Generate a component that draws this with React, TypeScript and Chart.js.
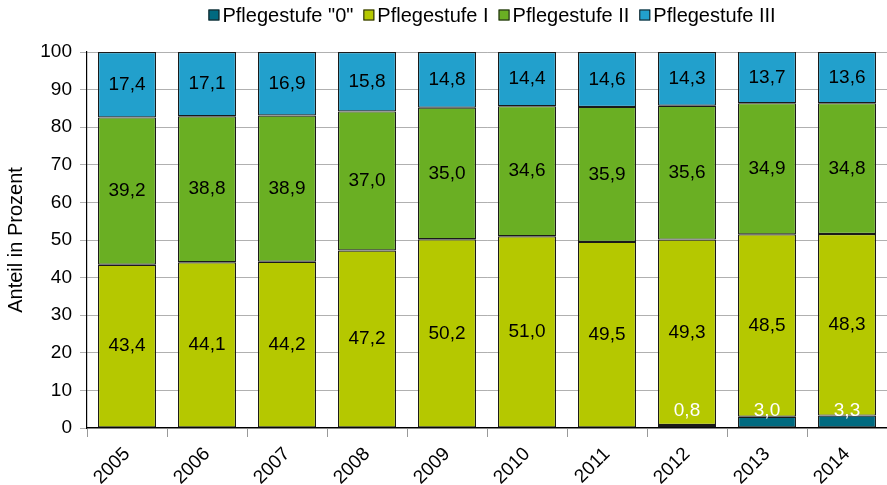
import React, { useEffect, useRef } from "react";
import { Chart, registerables } from "chart.js";

Chart.register(...registerables);

const years = ["2005", "2006", "2007", "2008", "2009", "2010", "2011", "2012", "2013", "2014"];
const stufe0 = [0, 0, 0, 0, 0, 0, 0, 0.8, 3.0, 3.3];
const stufe1 = [43.4, 44.1, 44.2, 47.2, 50.2, 51.0, 49.5, 49.3, 48.5, 48.3];
const stufe2 = [39.2, 38.8, 38.9, 37.0, 35.0, 34.6, 35.9, 35.6, 34.9, 34.8];
const stufe3 = [17.4, 17.1, 16.9, 15.8, 14.8, 14.4, 14.6, 14.3, 13.7, 13.6];
const seriesNames = ['Pflegestufe "0"', "Pflegestufe I", "Pflegestufe II", "Pflegestufe III"];
const seriesColors = ["#006a80", "#b5c800", "#6aaf23", "#22a0cc"];
const yTicks = [0, 10, 20, 30, 40, 50, 60, 70, 80, 90, 100];

const FONT = "'Liberation Sans', Arial, sans-serif";
const FS = 19;
const LEGEND_FS = 20;

const labelPlugin = {
  id: "barLabels",
  afterDatasetsDraw(chart: any) {
    const ctx = chart.ctx;
    ctx.save();
    ctx.font = `${FS}px ${FONT}`;
    ctx.textAlign = "center";
    ctx.textBaseline = "middle";
    chart.data.datasets.forEach((ds: any, di: number) => {
      const meta = chart.getDatasetMeta(di);
      meta.data.forEach((el: any, i: number) => {
        const v = ds.data[i];
        if (!v) return;
        const txt = v.toFixed(1).replace(".", ",");
        let y = (el.y + el.base) / 2;
        if (di === 0) {
          y = el.base - 17;
          ctx.fillStyle = "#ffffff";
        } else {
          ctx.fillStyle = "#000000";
        }
        ctx.fillText(txt, el.x, y);
      });
    });
    ctx.restore();
  },
  afterDraw(chart: any) {
    // legend
    const ctx = chart.ctx;
    ctx.save();
    ctx.font = `${LEGEND_FS}px ${FONT}`;
    ctx.textBaseline = "middle";
    ctx.textAlign = "left";
    const box = 11;
    const gap = 3;
    const spacing = 10;
    const ds = chart.data.datasets;
    const widths = ds.map((d: any) => box + gap + ctx.measureText(d.label).width);
    const total = widths.reduce((a: number, b: number) => a + b, 0) + spacing * (ds.length - 1);
    const center = (chart.chartArea.left + chart.chartArea.right) / 2 + 5;
    let x = center - total / 2;
    const y = 15;
    ds.forEach((d: any, i: number) => {
      ctx.fillStyle = d.backgroundColor;
      ctx.fillRect(x, y - box / 2, box, box);
      ctx.strokeStyle = "#1a1a1a";
      ctx.lineWidth = 1;
      ctx.strokeRect(x + 0.5, y - box / 2 + 0.5, box - 1, box - 1);
      ctx.fillStyle = "#000";
      ctx.fillText(d.label, x + box + gap, y + 1);
      x += widths[i] + spacing;
    });
    ctx.restore();
  },
};

export default function App() {
  const ref = useRef<HTMLCanvasElement>(null);
  useEffect(() => {
    document.body.style.margin = "0";
    const data = [stufe0, stufe1, stufe2, stufe3];
    const chart = new Chart(ref.current!, {
      type: "bar",
      data: {
        labels: years,
        datasets: data.map((d, i) => ({
          label: seriesNames[i],
          data: d,
          backgroundColor: seriesColors[i],
          borderColor: "#1a1a1a",
          borderWidth: 1.2,
          borderSkipped: false,
          barPercentage: 0.725,
          categoryPercentage: 1,
        })),
      },
      options: {
        responsive: false,
        animation: false,
        layout: { padding: { left: 0, right: 0, top: 52, bottom: 0 } },
        plugins: {
          legend: { display: false },
          tooltip: { enabled: false },
        },
        scales: {
          x: {
            stacked: true,
            afterFit: (axis: any) => {
              axis.height = 57;
            },
            grid: {
              offset: true,
              drawOnChartArea: false,
              drawTicks: true,
              tickLength: 9,
              color: "#999",
            },
            border: { color: "#000", width: 1.2 },
            ticks: {
              color: "#000",
              font: { family: FONT, size: FS },
              maxRotation: 45,
              minRotation: 45,
              padding: 6,
            },
          },
          y: {
            stacked: true,
            min: 0,
            max: 100,
            afterFit: (axis: any) => {
              axis.width = 87;
            },
            afterBuildTicks: (axis: any) => {
              axis.ticks = yTicks.map((v) => ({ value: v }));
            },
            grid: { color: "#b0b0b0", tickLength: 7, drawTicks: true },
            border: { color: "#000", width: 1.2 },
            ticks: {
              color: "#000",
              font: { family: FONT, size: FS },
              padding: 8,
            },
            title: {
              display: true,
              text: "Anteil in Prozent",
              color: "#000",
              font: { family: FONT, size: 20 },
              padding: { top: 4, bottom: 0 },
            },
          },
        },
      },
      plugins: [labelPlugin],
    } as any);
    return () => chart.destroy();
  }, []);
  return <canvas ref={ref} width={887} height={485} style={{ display: "block" }} />;
}
